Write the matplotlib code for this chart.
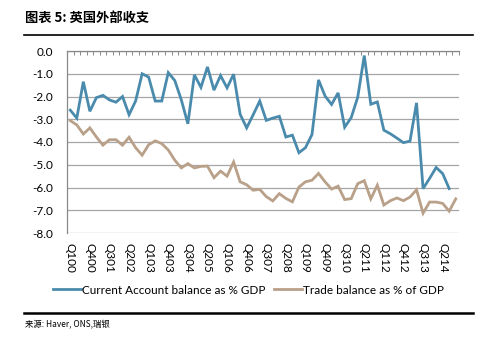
import matplotlib
matplotlib.use("Agg")
import matplotlib.pyplot as plt
from matplotlib.lines import Line2D
import numpy as np

# quarterly data, Q1 2000 .. Q4 2014
quarters = [f"Q{q}{y:02d}" for y in range(0, 15) for q in range(1, 5)]

current_account = [
    -2.6, -2.95, -1.35, -2.65, -2.05, -1.95, -2.15, -2.25, -2.0, -2.8,
    -2.2, -1.0, -1.15, -2.2, -2.2, -0.95, -1.3, -2.15, -3.2, -1.05,
    -1.6, -0.7, -1.72, -1.08, -1.62, -1.02, -2.78, -3.38, -2.8, -2.2,
    -3.05, -2.95, -2.87, -3.78, -3.7, -4.47, -4.25, -3.67, -1.27, -1.98,
    -2.35, -1.84, -3.35, -2.93, -2.03, -0.2, -2.34, -2.24, -3.48, -3.64,
    -3.83, -4.03, -3.96, -2.28, -6.05, -5.6, -5.12, -5.39, -6.05, np.nan,
]
trade_balance = [
    -3.06, -3.25, -3.65, -3.38, -3.78, -4.14, -3.9, -3.9, -4.14, -3.79,
    -4.25, -4.58, -4.12, -3.95, -4.07, -4.35, -4.8, -5.14, -4.95, -5.14,
    -5.07, -5.06, -5.57, -5.28, -5.5, -4.88, -5.75, -5.88, -6.12, -6.08,
    -6.4, -6.59, -6.27, -6.48, -6.63, -5.98, -5.75, -5.68, -5.38, -5.75,
    -6.07, -5.94, -6.53, -6.49, -5.83, -5.7, -6.5, -5.9, -6.77, -6.58,
    -6.46, -6.58, -6.42, -6.1, -7.13, -6.64, -6.64, -6.7, -7.04, -6.5,
]
yticks = np.arange(0, -8.5, -1.0)

plt.rcParams['font.family'] = ['Lato', 'DejaVu Sans']

fig = plt.figure(figsize=(4.85, 3.37), dpi=100)
ax = fig.add_axes([67 / 485, 1 - 233 / 337, 392 / 485, 182 / 337])

x = np.arange(len(quarters))
ax.plot(x, current_account, color='#4a8bad', lw=2.0,
        label='Current Account balance as % GDP', solid_joinstyle='miter')
ax.plot(x, trade_balance, color='#b9a089', lw=2.0,
        label='Trade balance as % of GDP', solid_joinstyle='miter')

ax.set_xlim(-0.5, len(quarters) - 0.5)
ax.set_ylim(-8.0, 0.0)
ax.set_yticks(yticks)
ax.set_yticklabels([f"{v:.1f}" if v != 0 else "0.0" for v in yticks], fontsize=8.5)
ax.yaxis.grid(True, color='#a6a6a6', lw=0.9)
ax.set_axisbelow(True)

ax.set_xticks(x[::3])
ax.set_xticklabels(quarters[::3], rotation=-90, fontsize=8.5, va='top', ha='center')
ax.set_xticks(np.arange(-0.5, len(quarters)), minor=True)
ax.tick_params(axis='x', which='major', bottom=False, top=False, pad=4)
ax.tick_params(axis='x', which='minor', bottom=False, top=True,
               direction='in', length=3, color='#888888', width=0.7)
ax.tick_params(axis='y', length=0, pad=10)

for side in ['right', 'bottom']:
    ax.spines[side].set_visible(False)
ax.spines['left'].set_color('#888888')
ax.spines['top'].set_color('#888888')
ax.spines['left'].set_linewidth(0.9)
ax.spines['top'].set_linewidth(0.9)

fig.legend(loc='center', bbox_to_anchor=(0.512, 1 - 290 / 337), ncol=2,
           frameon=False, fontsize=8.5, handlelength=2.4, handletextpad=0.1,
           columnspacing=0.7)

fig.text(25 / 485, 1 - 18 / 337, "图表 5: 英国外部收支", fontsize=9.5, fontweight='bold',
         family=['Noto Sans CJK SC', 'DejaVu Sans'], va='center', ha='left')
fig.add_artist(Line2D([24 / 485, 473 / 485], [1 - 35 / 337] * 2, color='black', lw=1.2))
fig.add_artist(Line2D([24 / 485, 473 / 485], [1 - 313 / 337] * 2, color='black', lw=1.8))
fig.text(25 / 485, 1 - 325 / 337, "来源: Haver, ONS,瑞银", fontsize=6,
         family=['Noto Sans CJK SC', 'DejaVu Sans'], va='center', ha='left')

fig.savefig("out.png", dpi=100)
